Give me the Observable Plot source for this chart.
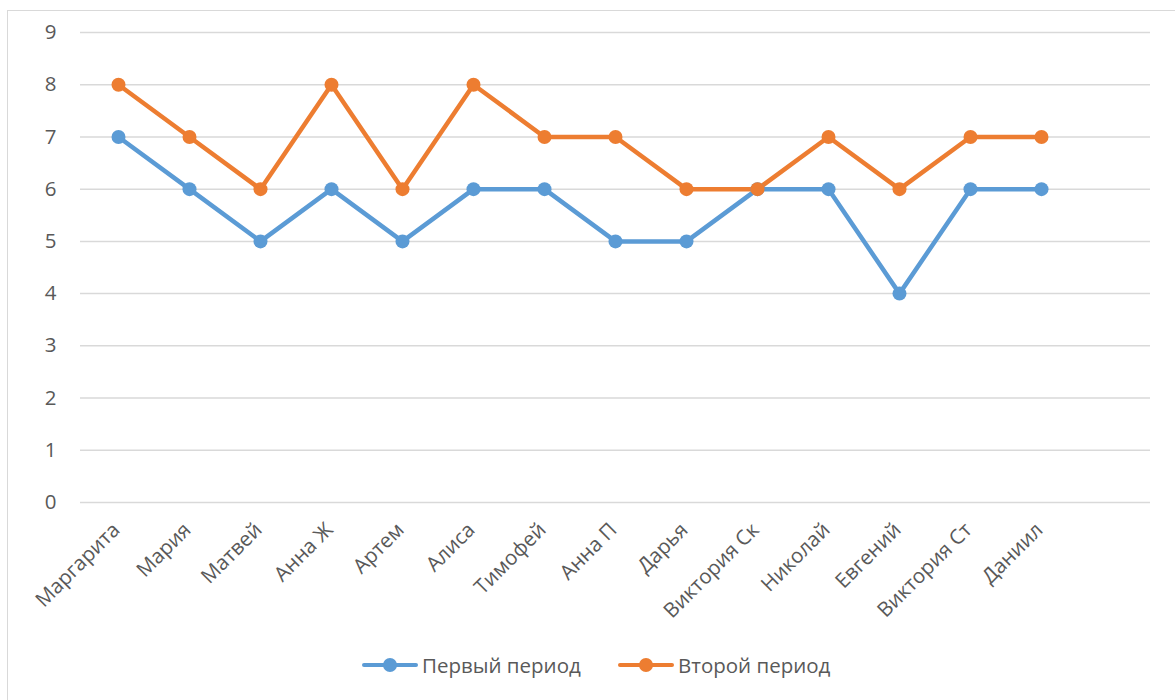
<!DOCTYPE html>
<html>
<head>
<meta charset="utf-8">
<script src="https://cdn.jsdelivr.net/npm/d3@7"></script>
<script src="https://cdn.jsdelivr.net/npm/@observablehq/plot@0.6"></script>
<style>
  html, body { margin: 0; padding: 0; background: #fff; }
  #wrap { position: relative; width: 1175px; height: 700px; overflow: hidden; font-family: "Open Sans", sans-serif; }
  #frame { position: absolute; left: 7px; top: 10px; width: 1200px; height: 720px; border: 1.5px solid #D9D9D9; box-sizing: border-box; }
  #chart { position: absolute; left: 0; top: 0; }
  #legend { position: absolute; top: 650px; left: 0; width: 1175px; height: 30px; }
  .item { position: absolute; top: 0; display: flex; align-items: center; height: 30px; font-size: 20.5px; color: #595959; }
  .sw { position: relative; width: 56px; height: 30px; margin-right: 4px; }
  .sw .ln { position: absolute; left: 0; right: 0; top: 13px; height: 4px; border-radius: 2px; }
  .sw .dt { position: absolute; left: 21px; top: 8px; width: 14px; height: 14px; border-radius: 50%; }
</style>
</head>
<body>
<div id="wrap">
  <div id="frame"></div>
  <div id="chart"></div>
  <div id="legend"></div>
</div>
<script>
const names = ["Маргарита", "Мария", "Матвей", "Анна Ж", "Артем", "Алиса", "Тимофей", "Анна П", "Дарья", "Виктория Ск", "Николай", "Евгений", "Виктория Ст", "Даниил"];
const firstPeriod = [7, 6, 5, 6, 5, 6, 6, 5, 5, 6, 6, 4, 6, 6];
const secondPeriod = [8, 7, 6, 8, 6, 8, 7, 7, 6, 6, 7, 6, 7, 7];
const seriesNames = ["Первый период", "Второй период"];
const colors = ["#5B9BD5", "#ED7D31"];
const yTicks = [0, 1, 2, 3, 4, 5, 6, 7, 8, 9];

const data = [];
names.forEach((n, i) => {
  data.push({name: n, value: firstPeriod[i], series: seriesNames[0]});
  data.push({name: n, value: secondPeriod[i], series: seriesNames[1]});
});

const chart = Plot.plot({
  width: 1175,
  height: 640,
  marginTop: 32,
  marginBottom: 138,
  marginLeft: 80,
  marginRight: 25,
  style: {fontFamily: "'Open Sans', sans-serif", fontSize: "20.5px", color: "#595959", background: "transparent"},
  x: {type: "point", domain: [...names, " "], padding: 0.5},
  y: {domain: [0, 9]},
  color: {domain: seriesNames, range: colors},
  marks: [
    Plot.gridY(yTicks, {stroke: "#D9D9D9", strokeOpacity: 1, strokeWidth: 1.5}),
    Plot.axisY(yTicks, {tickSize: 0, tickPadding: 24, tickFormat: d => String(d), label: null, fill: "#595959", fontSize: 20.5}),
    Plot.axisX(names, {tickSize: 0, tickPadding: 24, dx: -2, tickRotate: -45, label: null, fill: "#595959", fontSize: 20.5}),
    Plot.line(data, {x: "name", y: "value", z: "series", stroke: "series", strokeWidth: 4.5}),
    Plot.dot(data, {x: "name", y: "value", fill: "series", r: 7})
  ]
});
document.getElementById("chart").appendChild(chart);

const legend = document.getElementById("legend");
const lefts = [362, 618];
seriesNames.forEach((s, i) => {
  const it = document.createElement("div");
  it.className = "item";
  it.style.left = lefts[i] + "px";
  it.innerHTML = `<div class="sw"><div class="ln" style="background:${colors[i]}"></div><div class="dt" style="background:${colors[i]}"></div></div><span>${s}</span>`;
  legend.appendChild(it);
});
</script>
</body>
</html>
